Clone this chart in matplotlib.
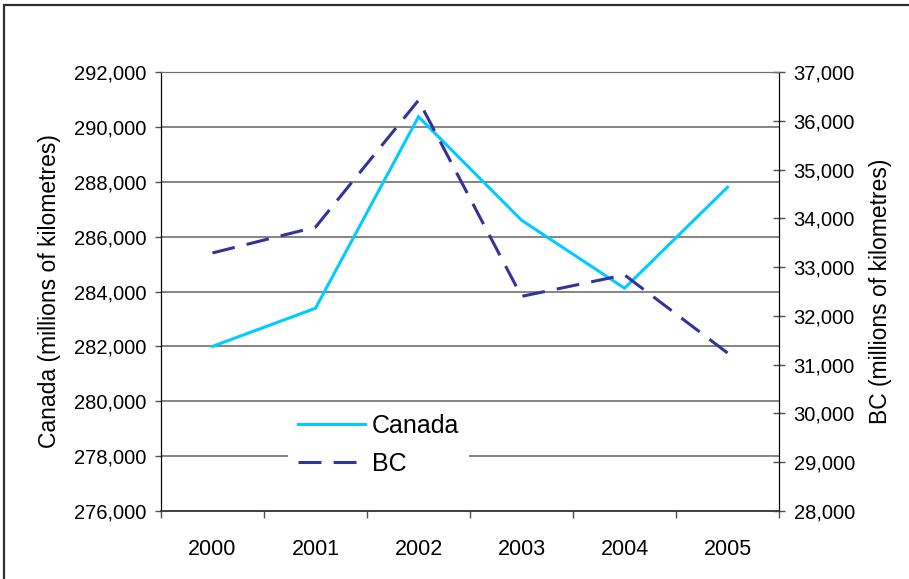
import matplotlib.pyplot as plt
from matplotlib.patches import Rectangle
from matplotlib.ticker import FuncFormatter

plt.rcParams['font.family'] = ['Liberation Sans', 'DejaVu Sans']

years = ['2000', '2001', '2002', '2003', '2004', '2005']
canada = [282000, 283390, 290370, 286600, 284120, 287800]
bc = [33290, 33820, 36420, 32400, 32840, 31240]

x = list(range(len(years)))
fmt = FuncFormatter(lambda v, p: f'{int(v):,}')

fig = plt.figure(figsize=(9.09, 5.79), dpi=100)
ax = fig.add_axes([161 / 909, 1 - 511 / 579, 618 / 909, 439 / 579])
ax2 = ax.twinx()

# left axis: Canada
ax.plot(x, canada, color='#00CCFF', lw=2.2, label='Canada', solid_joinstyle='miter')
ax.set_ylim(276000, 292000)
ax.set_yticks(range(276000, 292001, 2000))
ax.yaxis.set_major_formatter(fmt)
ax.grid(axis='y', color='#707070', lw=1.2)
ax.set_axisbelow(True)
ax.tick_params(axis='y', direction='out', length=4.5, width=1, color='#505050',
               labelsize=14.5, pad=6)
ax.set_ylabel('Canada (millions of kilometres)', fontsize=16.5, labelpad=9)

# categories
ax.set_xlim(-0.5, len(years) - 0.5)
ax.set_xticks([i - 0.5 for i in range(len(years) + 1)])
ax.set_xticklabels([])
ax.set_xticks(x, minor=True)
ax.set_xticklabels(years, minor=True)
ax.tick_params(axis='x', which='major', direction='out', length=5, width=1, color='#505050')
ax.tick_params(axis='x', which='minor', length=0, labelsize=15.5, pad=20)

# right axis: BC
ax2.plot(x, bc, color='#333399', lw=2.2, dashes=(7.5, 4), label='BC')
ax2.set_ylim(28000, 37000)
ax2.set_yticks(range(28000, 37001, 1000))
ax2.yaxis.set_major_formatter(fmt)
ax2.tick_params(axis='y', direction='inout', length=9, width=1, color='#505050',
                labelsize=14.5, pad=6)
ax2.set_ylabel('BC (millions of kilometres)', fontsize=16.5, labelpad=10)

for a in (ax, ax2):
    a.spines['top'].set_color('#707070')
    a.spines['left'].set_color('black')
    a.spines['right'].set_color('black')
    a.spines['bottom'].set_color('#404040')
    a.spines['bottom'].set_linewidth(1.2)

h1, l1 = ax.get_legend_handles_labels()
h2, l2 = ax2.get_legend_handles_labels()
leg = ax2.legend(h1 + h2, l1 + l2, loc='center',
                 bbox_to_anchor=(378.5 / 909, 1 - 445 / 579),
                 bbox_transform=fig.transFigure, fontsize=18, handlelength=2.7,
                 handletextpad=0.25, labelspacing=0.55, borderpad=0.4,
                 frameon=True, fancybox=False, framealpha=1)
leg.get_frame().set_edgecolor('none')
leg.get_frame().set_facecolor('white')

# outer chart frame
fig.patches.append(Rectangle((3.5 / 909, -0.05), 1.1, 1 - 4.5 / 579 + 0.05,
                             transform=fig.transFigure, fill=False,
                             edgecolor='#303030', lw=1.6))

fig.savefig('out.png', dpi=100)
